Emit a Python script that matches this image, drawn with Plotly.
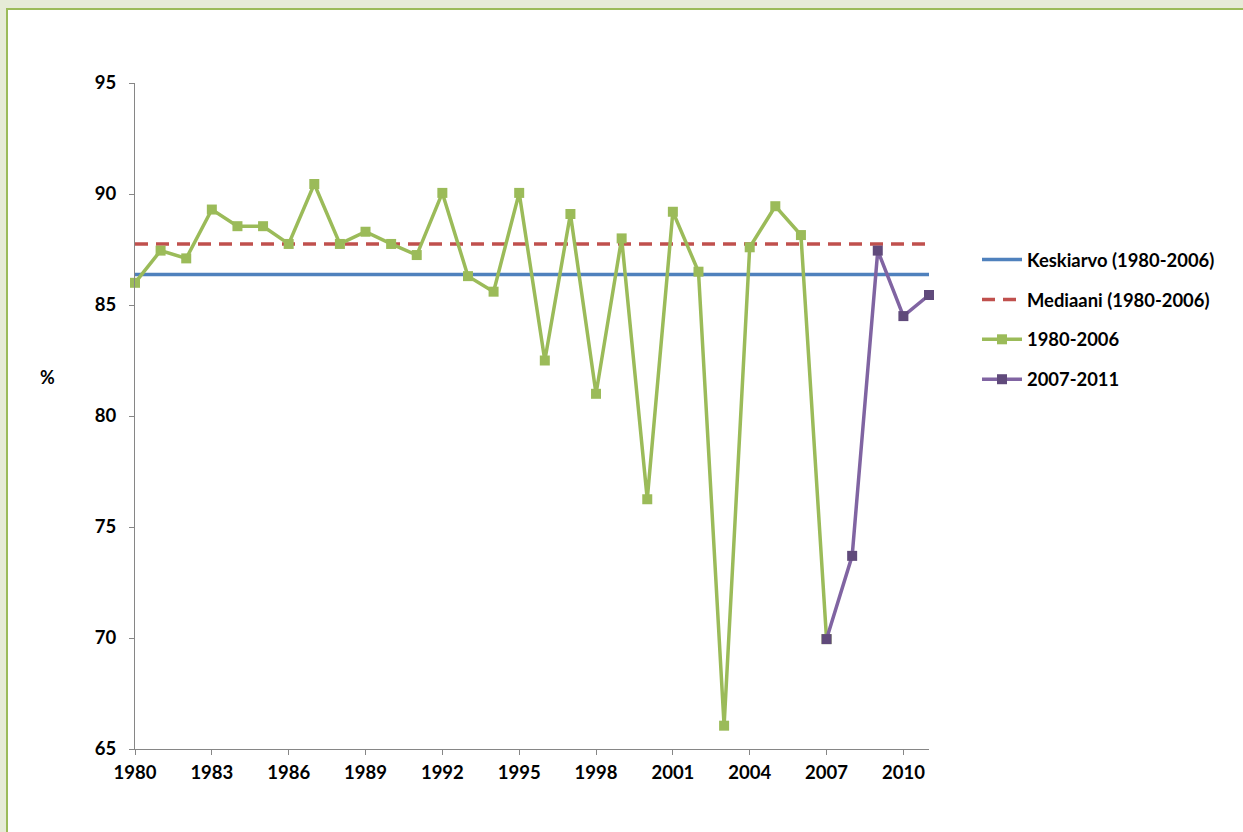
import plotly.graph_objects as go

years_a = list(range(1980, 2008))
values_a = [86.0, 87.45, 87.1, 89.3, 88.55, 88.55, 87.75, 90.45, 87.75, 88.3,
            87.75, 87.25, 90.05, 86.3, 85.6, 90.05, 82.5, 89.1, 81.0, 88.0,
            76.25, 89.2, 86.5, 66.05, 87.6, 89.45, 88.15, 69.95]
years_b = [2007, 2008, 2009, 2010, 2011]
values_b = [69.95, 73.7, 87.45, 84.5, 85.45]
ref_years = [1980, 2011]
mean_value = 86.37
median_value = 87.75
x_ticks = list(range(1980, 2011, 3))
y_ticks = [65, 70, 75, 80, 85, 90, 95]

W, H = 1243, 832
L, R, T, B = 135, 1243 - 929, 83, 832 - 749
pw, ph = W - L - R, H - T - B

def px_x(p):
    return (p - L) / pw

def px_y(p):
    return (H - B - p) / ph

FONT = "Lato"
fig = go.Figure()
fig.add_trace(go.Scatter(x=ref_years, y=[mean_value] * 2, mode="lines",
                         name="Keskiarvo (1980-2006)", legendgroup="a",
                         line=dict(color="#4F81BD", width=3.5)))
fig.add_trace(go.Scatter(x=ref_years, y=[median_value] * 2, mode="lines",
                         name="Mediaani (1980-2006)", legendgroup="b",
                         line=dict(color="#C0504D", width=3.5, dash="13px,8px")))
fig.add_trace(go.Scatter(x=years_a, y=values_a, mode="lines+markers",
                         name="1980-2006", legendgroup="c", cliponaxis=False,
                         line=dict(color="#9BBB59", width=3.5),
                         marker=dict(symbol="square", size=10, color="#9BBB59")))
fig.add_trace(go.Scatter(x=years_b, y=values_b, mode="lines+markers",
                         name="2007-2011", legendgroup="d", cliponaxis=False,
                         line=dict(color="#8064A2", width=3.5),
                         marker=dict(symbol="square", size=10, color="#604A7B")))

fig.add_shape(type="rect", xref="paper", yref="paper",
              x0=px_x(7), x1=px_x(1270), y0=px_y(850), y1=px_y(9),
              line=dict(color="#9BBB59", width=2), fillcolor="white", layer="below")

fig.add_annotation(text="%", xref="paper", yref="paper", x=px_x(47), y=px_y(377),
                   xanchor="center", yanchor="middle", showarrow=False,
                   font=dict(family=FONT, size=18, color="black", weight=700))

axis_common = dict(showgrid=False, zeroline=False, showline=True, linecolor="#868686",
                   linewidth=1, ticks="outside", ticklen=5, tickcolor="#868686",
                   tickfont=dict(family=FONT, size=18.5, color="black", weight=700))
fig.update_xaxes(range=[1980, 2011], tickvals=x_ticks, ticklabelstandoff=2, **axis_common)
fig.update_yaxes(range=[65, 95], tickvals=y_ticks, ticklabelstandoff=9, **axis_common)

fig.update_layout(
    width=W, height=H,
    margin=dict(l=L, r=R, t=T, b=B),
    paper_bgcolor="#E6EBD7", plot_bgcolor="white",
    legend=dict(x=px_x(977), y=px_y(241), xanchor="left", yanchor="top",
                font=dict(family=FONT, size=18.4, color="black", weight=700),
                tracegroupgap=13, itemwidth=40, bgcolor="rgba(0,0,0,0)"),
    showlegend=True,
)
fig.write_html("out.html", config={"displayModeBar": False},
               post_script="document.body.style.margin='0';")
